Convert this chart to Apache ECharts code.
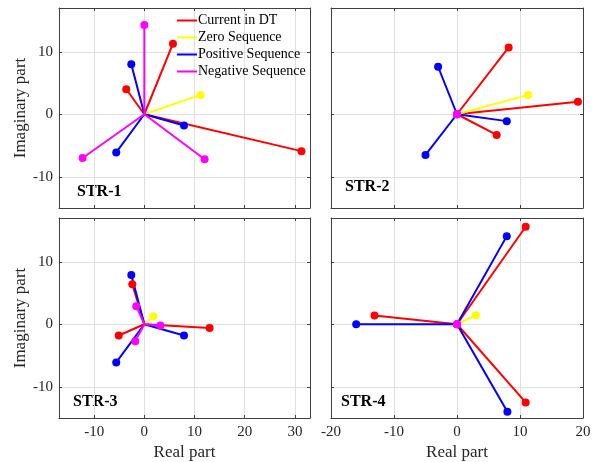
<!DOCTYPE html>
<html>
<head>
<meta charset="utf-8">
<script src="https://cdn.jsdelivr.net/npm/echarts@6/dist/echarts.min.js"></script>
<style>
    html, body {margin: 0; padding: 0; background: #fff;}
    #main {width: 604px; height: 462px;}
</style>
</head>
<body>
<div id="main"></div>
<script>
// 序列名称与颜色
var seqNames = ['Current in DT', 'Zero Sequence', 'Positive Sequence', 'Negative Sequence'];
var seqColors = ['#ff0000', '#ffff00', '#0000ff', '#ff00ff'];
var panelLabels = ['STR-1', 'STR-2', 'STR-3', 'STR-4'];

// 相量端点 [实部, 虚部]
var str1Current = [[5.7, 11.3], [-3.6, 4.0], [31.3, -5.9]];
var str1Zero = [[11.2, 3.1]];
var str1Positive = [[-2.6, 8.0], [7.9, -1.8], [-5.6, -6.1]];
var str1Negative = [[0, 14.3], [-12.3, -7.0], [12.0, -7.2]];

var str2Current = [[8.2, 10.7], [19.2, 2.0], [6.3, -3.3]];
var str2Zero = [[11.3, 3.1]];
var str2Positive = [[-3.0, 7.6], [7.9, -1.1], [-5.0, -6.5]];
var str2Negative = [[0, 0], [0, 0], [0, 0]];

var str3Current = [[-2.4, 6.4], [13.0, -0.6], [-5.1, -1.8]];
var str3Zero = [[1.8, 1.3]];
var str3Positive = [[-2.6, 7.9], [7.9, -1.8], [-5.6, -6.1]];
var str3Negative = [[-1.6, 2.9], [3.2, -0.2], [-1.8, -2.7]];

var str4Current = [[10.9, 15.6], [-13.1, 1.4], [10.9, -12.5]];
var str4Zero = [[3.0, 1.45]];
var str4Positive = [[7.9, 14.1], [-16.0, 0], [8.0, -14.0]];
var str4Negative = [[0, 0], [0, 0], [0, 0]];

// 坐标范围
var xRangeLeft = [-17, 33];
var xRangeRight = [-20, 20];
var yRange = [-15, 17];

var panels = [
    [str1Current, str1Zero, str1Positive, str1Negative],
    [str2Current, str2Zero, str2Positive, str2Negative],
    [str3Current, str3Zero, str3Positive, str3Negative],
    [str4Current, str4Zero, str4Positive, str4Negative]
];

var font = "'Liberation Serif', 'Times New Roman', serif";
var axisColor = '#404040';
var gridBoxes = [
    {left: 59, top: 8, width: 251, height: 200},
    {left: 331, top: 8, width: 252, height: 200},
    {left: 59, top: 218, width: 251, height: 200},
    {left: 331, top: 218, width: 252, height: 200}
];
var labelPos = [[77, 193], [345, 188], [73, 403], [341, 403]];

function tenOnly(v) {
    return v % 10 === 0 ? String(v) : '';
}

var grids = [], xAxes = [], yAxes = [], series = [], graphics = [];

gridBoxes.forEach(function (box, i) {
    grids.push(box);
    var isLeft = i % 2 === 0;
    var isBottom = i >= 2;
    var xr = isLeft ? xRangeLeft : xRangeRight;

    // 下方 x 轴
    xAxes.push({
        type: 'value', gridIndex: i, position: 'bottom', min: xr[0], max: xr[1],
        axisLine: {show: true, onZero: false, lineStyle: {color: axisColor, width: 1}},
        axisTick: {show: true, inside: true, length: 3, lineStyle: {color: axisColor}},
        splitLine: {show: true, lineStyle: {color: '#e0e0e0', width: 1}},
        axisLabel: {
            show: isBottom, margin: 7, fontSize: 15, fontFamily: font, color: '#262626',
            formatter: tenOnly, showMinLabel: !isLeft, showMaxLabel: !isLeft
        },
        name: isBottom ? 'Real part' : '', nameLocation: 'middle', nameGap: 26,
        nameTextStyle: {fontSize: 17, fontFamily: font, color: '#262626'}
    });
    // 上方 x 轴（只画刻度）
    xAxes.push({
        type: 'value', gridIndex: i, position: 'top', min: xr[0], max: xr[1],
        axisLine: {show: true, onZero: false, lineStyle: {color: axisColor, width: 1}},
        axisTick: {show: true, inside: true, length: 3, lineStyle: {color: axisColor}},
        splitLine: {show: false},
        axisLabel: {show: false}
    });
    // 左 y 轴
    yAxes.push({
        type: 'value', gridIndex: i, position: 'left', min: yRange[0], max: yRange[1], splitNumber: 3,
        axisLine: {show: true, onZero: false, lineStyle: {color: axisColor, width: 1}},
        axisTick: {show: true, inside: true, length: 3, lineStyle: {color: axisColor}},
        splitLine: {show: true, lineStyle: {color: '#e0e0e0', width: 1}},
        axisLabel: {
            show: isLeft, margin: 6, fontSize: 15, fontFamily: font, color: '#262626',
            formatter: tenOnly, showMinLabel: false, showMaxLabel: false
        },
        name: isLeft ? 'Imaginary part' : '', nameLocation: 'middle', nameGap: 26,
        nameTextStyle: {fontSize: 17, fontFamily: font, color: '#262626'}
    });
    // 右 y 轴（只画刻度）
    yAxes.push({
        type: 'value', gridIndex: i, position: 'right', min: yRange[0], max: yRange[1], splitNumber: 3,
        axisLine: {show: true, onZero: false, lineStyle: {color: axisColor, width: 1}},
        axisTick: {show: true, inside: true, length: 3, lineStyle: {color: axisColor}},
        splitLine: {show: false},
        axisLabel: {show: false}
    });

    // 每个相量一条线：原点 -> 端点
    panels[i].forEach(function (points, j) {
        points.forEach(function (p) {
            series.push({
                name: seqNames[j],
                type: 'line',
                xAxisIndex: i * 2,
                yAxisIndex: i * 2,
                symbol: 'circle',
                symbolSize: 8,
                showSymbol: true,
                lineStyle: {color: seqColors[j], width: 2},
                itemStyle: {color: seqColors[j]},
                emphasis: {disabled: true},
                data: [{value: [0, 0], symbol: 'none'}, {value: p}]
            });
        });
    });

    graphics.push({
        type: 'text',
        left: labelPos[i][0],
        top: labelPos[i][1] - 9,
        style: {text: panelLabels[i], fontSize: 16, fontWeight: 'bold', fontFamily: font, fill: '#000'}
    });
});

var myChart = echarts.init(document.getElementById('main'), null, {renderer: 'canvas'});
myChart.setOption({
    animation: false,
    backgroundColor: '#fff',
    grid: grids,
    xAxis: xAxes,
    yAxis: yAxes,
    legend: {
        data: seqNames,
        orient: 'vertical',
        left: 177,
        top: 12,
        icon: 'rect',
        itemWidth: 20,
        itemHeight: 2,
        itemGap: 0,
        padding: 0,
        selectedMode: false,
        textStyle: {fontSize: 14, lineHeight: 17, fontFamily: font, color: '#000', padding: [0, 0, 0, -4]}
    },
    graphic: graphics,
    series: series
});
</script>
</body>
</html>
